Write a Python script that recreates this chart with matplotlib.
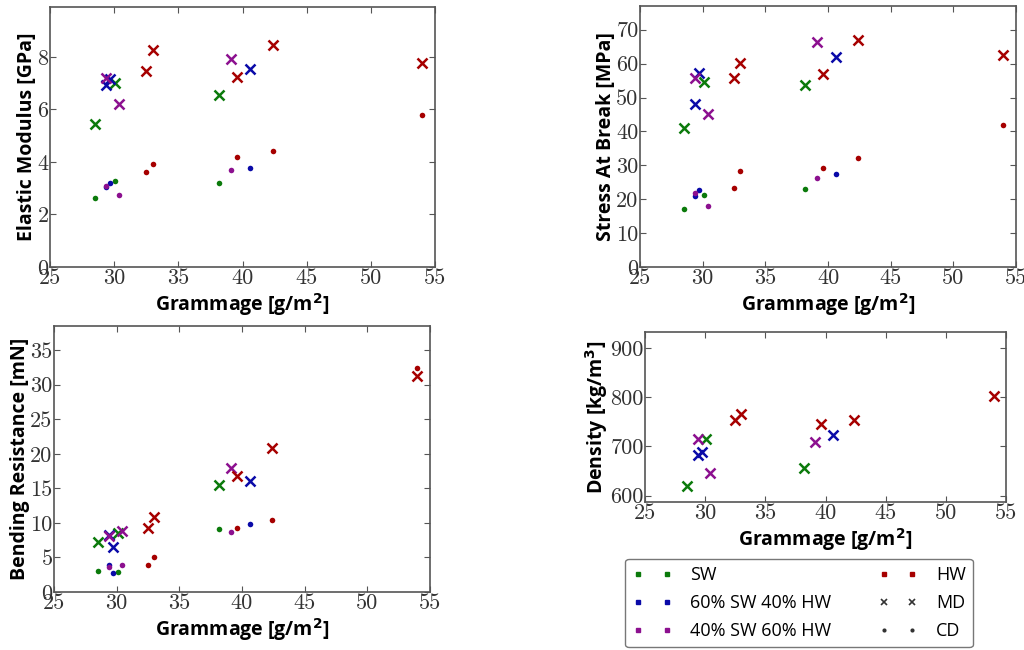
import matplotlib
matplotlib.use("Agg")
import matplotlib.pyplot as plt
from matplotlib.lines import Line2D
import numpy as np

# grammage of each sample, per pulp type
groups = ["SW", "60% SW 40% HW", "40% SW 60% HW", "HW"]
colors = ["#0b7a0b", "#0a0aa8", "#8c108f", "#a60000"]
grammage = {
    "SW": [28.5, 30.1, 38.2],
    "60% SW 40% HW": [29.4, 29.7, 40.6],
    "40% SW 60% HW": [29.4, 30.4, 39.1],
    "HW": [32.5, 33.0, 39.6, 42.4, 54.0],
}

# elastic modulus [GPa]
em_md = {
    "SW": [5.43, 7.0, 6.55],
    "60% SW 40% HW": [6.93, 7.16, 7.53],
    "40% SW 60% HW": [7.18, 6.22, 7.91],
    "HW": [7.47, 8.27, 7.25, 8.45, 7.75],
}
em_cd = {
    "SW": [2.62, 3.26, 3.21],
    "60% SW 40% HW": [3.05, 3.21, 3.77],
    "40% SW 60% HW": [3.09, 2.76, 3.68],
    "HW": [3.6, 3.93, 4.17, 4.43, 5.8],
}

# stress at break [MPa]
sb_md = {
    "SW": [40.9, 54.7, 53.8],
    "60% SW 40% HW": [48.2, 57.2, 62.1],
    "40% SW 60% HW": [55.7, 45.1, 66.3],
    "HW": [55.9, 60.3, 56.8, 67.1, 62.5],
}
sb_cd = {
    "SW": [17.0, 21.3, 23.0],
    "60% SW 40% HW": [20.9, 22.6, 27.4],
    "40% SW 60% HW": [21.9, 18.1, 26.3],
    "HW": [23.4, 28.3, 29.2, 32.1, 42.0],
}

# bending resistance [mN]
br_md = {
    "SW": [7.2, 8.5, 15.55],
    "60% SW 40% HW": [8.3, 6.5, 16.0],
    "40% SW 60% HW": [8.1, 8.8, 17.9],
    "HW": [9.25, 10.9, 16.8, 20.8, 31.25],
}
br_cd = {
    "SW": [3.0, 2.9, 9.1],
    "60% SW 40% HW": [3.95, 2.75, 9.77],
    "40% SW 60% HW": [3.66, 3.9, 8.62],
    "HW": [3.9, 5.1, 9.3, 10.4, 32.35],
}

# density [kg/m3]
dens = {
    "SW": [619.7, 715.4, 657.0],
    "60% SW 40% HW": [682.8, 689.6, 723.5],
    "40% SW 60% HW": [715.4, 645.5, 709.3],
    "HW": [754.0, 765.6, 746.0, 754.8, 803.0],
}

W, H = 1024, 650
fig = plt.figure(figsize=(W / 100, H / 100), dpi=100)


def px_axes(l, t, r, b):
    return fig.add_axes([l / W, 1 - b / H, (r - l) / W, (b - t) / H])


lab_font = dict(family="Open Sans", weight="bold", size=14)


def style(ax, ylabel, ylim, yticks):
    ax.set_xlim(25, 55)
    ax.set_xticks(np.arange(25, 56, 5))
    ax.set_ylim(*ylim)
    ax.set_yticks(yticks)
    ax.tick_params(direction="in", top=True, right=True, length=4,
                   width=0.8, color="#555555", labelsize=16,
                   labelcolor="#333333", labelfontfamily="cmr10", pad=1)
    for sp in ax.spines.values():
        sp.set_color("#555555")
        sp.set_linewidth(1.2)
    ax.set_xlabel("Grammage [g/m$^\\mathbf{2}$]", labelpad=2, **lab_font)
    ax.set_ylabel(ylabel, labelpad=0, **lab_font)


def scatter(ax, md, cd=None):
    for g, c in zip(groups, colors):
        ax.plot(grammage[g], md[g], "x", color=c, ms=7, mew=1.8, ls="none")
        if cd is not None:
            ax.plot(grammage[g], cd[g], "o", color=c, ms=4, mew=0, ls="none")


ax1 = px_axes(50, 7, 435, 267)
scatter(ax1, em_md, em_cd)
style(ax1, "Elastic Modulus [GPa]", (0, 9.9), [0, 2, 4, 6, 8])

ax2 = px_axes(640, 6, 1016, 267)
scatter(ax2, sb_md, sb_cd)
style(ax2, "Stress At Break [MPa]", (0, 77), np.arange(0, 71, 10))

ax3 = px_axes(54, 326, 430, 592)
scatter(ax3, br_md, br_cd)
style(ax3, "Bending Resistance [mN]", (0, 38.5), np.arange(0, 36, 5))

ax4 = px_axes(645, 332, 1006, 502)
scatter(ax4, dens)
style(ax4, "Density [kg/m$^\\mathbf{3}$]", (587, 933), [600, 700, 800, 900])

handles = [
    Line2D([], [], marker="s", color=colors[0], ls="none", ms=3.5),
    Line2D([], [], marker="s", color=colors[1], ls="none", ms=3.5),
    Line2D([], [], marker="s", color=colors[2], ls="none", ms=3.5),
    Line2D([], [], marker="s", color=colors[3], ls="none", ms=3.5),
    Line2D([], [], marker="x", color="#333333", ls="none", ms=5, mew=1.2),
    Line2D([], [], marker="o", color="#333333", ls="none", ms=3, mew=0),
]
labels = groups + ["MD", "CD"]
fig.legend(handles, labels, loc="center", ncol=2, numpoints=2,
           bbox_to_anchor=(799 / W, 1 - 603 / H), fancybox=True,
           prop=dict(family="Open Sans", size=13), columnspacing=2.6,
           handlelength=2.2, handletextpad=1.0, labelspacing=0.55,
           edgecolor="#777777", framealpha=1)

fig.savefig("out.png", dpi=100)
